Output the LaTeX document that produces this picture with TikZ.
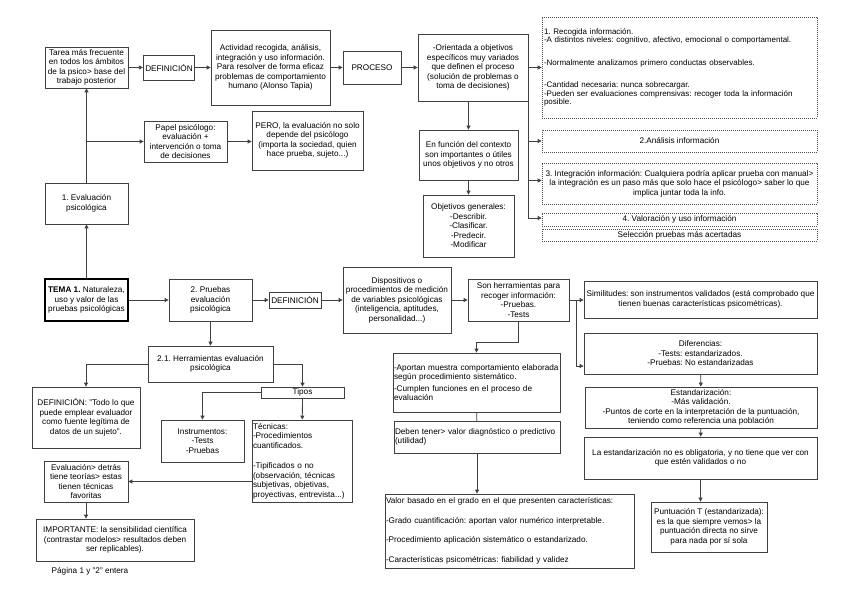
\documentclass[tikz,border=0pt]{standalone}
\usepackage{fontspec}
\setmainfont{Liberation Sans}
\usetikzlibrary{arrows.meta}
\tikzset{
  caja/.style={draw=black!75,line width=0.8pt,inner xsep=2pt,inner ysep=1pt,align=center,font=\fontsize{8.2}{9.5}\selectfont\frenchspacing},
  cajai/.style={caja,align=left,inner xsep=1pt},
  puntos/.style={caja,draw=black!70,dash pattern=on 0.8pt off 1.2pt,line width=0.7pt},
  flecha/.style={draw=black!75,line width=0.8pt,-{Triangle[length=4pt,width=4pt]}},
  linea/.style={draw=black!75,line width=0.8pt}
}
\begin{document}
\begin{tikzpicture}[x=1pt,y=-1pt]
\fill[white] (0,0) rectangle (848,599);
\useasboundingbox (0,0) rectangle (848,599);
% parte 1: evaluacion
\node[caja,minimum width=83pt,minimum height=41pt] (tarea) at (86.5,67.5) {Tarea más frecuente\\en todos los ámbitos\\de la psico> base del\\trabajo posterior};
\node[caja,minimum width=50pt,minimum height=25pt] (def1) at (169,67.5) {DEFINICIÓN};
\node[caja,minimum width=119pt,minimum height=75pt] (activ) at (270.5,67.5) {Actividad recogida, análisis,\\integración y uso información.\\Para resolver de forma eficaz\\problemas de comportamiento\\humano (Alonso Tapia)};
\node[caja,minimum width=58pt,minimum height=33pt] (proceso) at (372,67.5) {PROCESO};
\node[caja,minimum width=110pt,minimum height=67pt] (orient) at (473,67.5) {-Orientada a objetivos\\específicos muy variados\\que definen el proceso\\(solución de problemas o\\toma de decisiones)};
\node[caja,minimum width=99pt,minimum height=50pt] (contexto) at (468.5,155) {En función del contexto\\son importantes o útiles\\unos objetivos y no otros};
\node[caja,minimum width=91pt,minimum height=62pt] (objet) at (468.5,226) {Objetivos generales:\\-Describir.\\-Clasificar.\\-Predecir.\\-Modificar};
\node[puntos,align=left,text width=271pt,minimum height=101pt,font=\fontsize{8}{7.2}\selectfont\frenchspacing] (paso1) at (679.5,67.5) {1. Recogida información.\\-A distintos niveles: cognitivo, afectivo, emocional o comportamental.\\[14pt]-Normalmente analizamos primero conductas observables.\\[14pt]-Cantidad necesaria: nunca sobrecargar.\\-Pueden ser evaluaciones comprensivas: recoger toda la información\\posible.};
\node[puntos,minimum width=275pt,minimum height=22pt] (paso2) at (679.5,141) {2.Análisis información};
\node[puntos,minimum width=275pt,minimum height=41pt] (paso3) at (679.5,183.5) {3. Integración información: Cualquiera podría aplicar prueba con manual>\\la integración es un paso más que solo hace el psicólogo> saber lo que\\implica juntar toda la info.};
\node[puntos,minimum width=275pt,minimum height=13pt] (paso4) at (679.5,219.5) {4. Valoración y uso información};
\node[puntos,minimum width=275pt,minimum height=12pt] (selec) at (679.5,235) {Selección pruebas más acertadas};
\node[caja,minimum width=83pt,minimum height=41pt] (papel) at (185.5,141.5) {Papel psicólogo:\\evaluación +\\intervención o toma\\de decisiones};
\node[caja,minimum width=111pt,minimum height=59pt] (pero) at (307.5,140.5) {PERO, la evaluación no solo\\depende del psicólogo\\(importa la sociedad, quien\\hace prueba, sujeto...)};
\node[caja,minimum width=83pt,minimum height=41pt] (evalps) at (86.5,203.5) {1. Evaluación\\psicológica};
% parte 2: pruebas
\node[caja,line width=2pt,draw=black,minimum width=83pt,minimum height=42pt] (tema) at (86.5,300) {\textbf{TEMA 1.} Naturaleza,\\uso y valor de las\\pruebas psicológicas};
\node[caja,minimum width=83pt,minimum height=42pt] (pruebas) at (210.5,300) {2. Pruebas\\evaluación\\psicológica};
\node[caja,minimum width=52pt,minimum height=16pt] (def2) at (295,300) {DEFINICIÓN};
\node[caja,minimum width=108pt,minimum height=66pt] (dispos) at (397,300) {Dispositivos o\\procedimientos de medición\\de variables psicológicas\\(inteligencia, aptitudes,\\personalidad...)};
\node[caja,minimum width=101pt,minimum height=42pt] (son) at (518.5,300) {Son herramientas para\\recoger información:\\-Pruebas.\\-Tests};
\node[caja,minimum width=233pt,minimum height=37pt] (simil) at (700.5,299.5) {Similitudes: son instrumentos validados (está comprobado que\\tienen buenas características psicométricas).};
\node[caja,minimum width=233pt,minimum height=41pt] (difer) at (700.5,353.5) {Diferencias:\\-Tests: estandarizados.\\-Pruebas: No estandarizadas};
\node[caja,minimum width=232pt,minimum height=41pt] (estand) at (701,407.5) {Estandarización:\\-Más validación.\\-Puntos de corte en la interpretación de la puntuación,\\teniendo como referencia una población};
\node[caja,minimum width=233pt,minimum height=42pt] (noobl) at (700.5,458) {La estandarización no es obligatoria, y no tiene que ver con\\que estén validados o no};
\node[caja,minimum width=116pt,minimum height=50pt] (puntT) at (709,527) {Puntuación T (estandarizada):\\es la que siempre vemos> la\\puntuación directa no sirve\\para nada por sí sola};
\node[cajai,text width=165pt,minimum height=59pt] (aport) at (476.5,382.5) {-Aportan muestra comportamiento elaborada\\según procedimiento sistemático.\\[2pt]-Cumplen funciones en el proceso de\\evaluación};
\node[cajai,text width=164pt,minimum height=32pt] (deben) at (477,437) {Deben tener> valor diagnóstico o predictivo\\(utilidad)};
\node[cajai,text width=247pt,minimum height=74pt] (valor) at (509.5,531) {Valor basado en el grado en el que presenten características:\\[10pt]-Grado cuantificación: aportan valor numérico interpretable.\\[10pt]-Procedimiento aplicación sistemático o estandarizado.\\[10pt]-Características psicométricas: fiabilidad y validez};
\node[caja,minimum width=125pt,minimum height=36pt] (herr) at (210.5,364) {2.1. Herramientas evaluación\\psicológica};
\node[caja,minimum width=108pt,minimum height=61pt] (defin) at (86,417.5) {DEFINICIÓN: "Todo lo que\\puede emplear evaluador\\como fuente legítima de\\datos de un sujeto".};
\node[caja,minimum width=83pt,minimum height=11pt] (tipos) at (302.5,392.5) {Tipos};
\node[caja,minimum width=83pt,minimum height=42pt] (instr) at (202.5,441) {Instrumentos:\\-Tests\\-Pruebas};
\node[cajai,text width=98pt,minimum height=82pt] (tecn) at (302,461) {Técnicas:\\-Procedimientos\\cuantificados.\\[11pt]-Tipificados o no\\(observación, técnicas\\subjetivas, objetivas,\\proyectivas, entrevista...)};
\node[caja,minimum width=84pt,minimum height=41pt] (evalt) at (86,481.5) {Evaluación> detrás\\tiene teorías> estas\\tienen técnicas\\favoritas};
\node[caja,minimum width=158pt,minimum height=42pt] (import) at (115,540) {IMPORTANTE: la sensibilidad científica\\(contrastar modelos> resultados deben\\ser replicables).};
\node[font=\fontsize{8.2}{9.5}\selectfont] (pagina) at (90,571) {Página 1 y "2" entera};
% flechas
\draw[flecha] (tarea) -- (def1);
\draw[flecha] (def1) -- (activ);
\draw[flecha] (activ) -- (proceso);
\draw[flecha] (proceso) -- (orient);
\draw[flecha] (orient.east) -- (paso1.west);
\draw[flecha] (orient.south east) |- (paso2.west);
\draw[flecha] (orient.south east) |- ([yshift=3pt]paso3.west);
\draw[flecha] (orient.south east) |- ([yshift=1.5pt]paso4.west);
\draw[flecha] (contexto.north |- orient.south) -- (contexto.north);
\draw[flecha] (contexto) -- (objet);
\draw[flecha] (evalps) -- (tarea);
\draw[flecha] (evalps.north |- papel.west) -- (papel.west);
\draw[flecha] (papel.east) -- (papel.east -| pero.west);
\draw[flecha] (tema) -- (evalps);
\draw[flecha] (tema) -- (pruebas);
\draw[flecha] (pruebas) -- (def2);
\draw[flecha] (def2) -- (dispos);
\draw[flecha] (dispos) -- (son);
\draw[flecha] (son.east) -- (son.east -| simil.west);
\draw[flecha] (son.east) -- ++(7,0) |- ([yshift=-12.5pt]difer.west);
\draw[flecha] (difer) -- (estand);
\draw[flecha] (estand) -- (noobl);
\draw[flecha] (noobl.south) -- (noobl.south |- puntT.north);
\draw[flecha] (son.south) -- ++(0,21) -| (aport.north);
\draw[linea] (aport) -- (deben);
\draw[flecha] (deben.south) -- (deben.south |- valor.north);
\draw[flecha] (pruebas) -- (herr);
\draw[flecha] (herr.west) -| (defin.north);
\draw[flecha] (herr.east) -| (tipos.north);
\draw[flecha] (tipos.west) -| (instr.north);
\draw[flecha] (tipos) -- (tecn);
\draw[flecha] (tecn.west |- evalt.east) -- (evalt.east);
\draw[flecha] (evalt.south) -- (evalt.south |- import.north);
\end{tikzpicture}
\end{document}
